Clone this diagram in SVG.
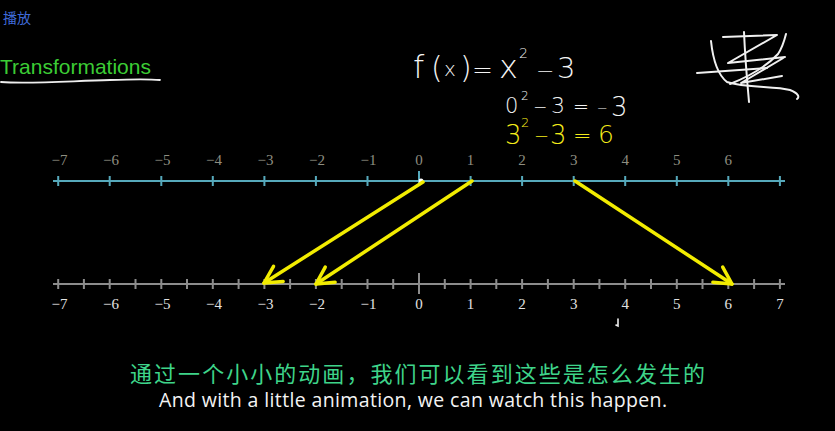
<svg xmlns="http://www.w3.org/2000/svg" width="835" height="431" viewBox="0 0 835 431">
<defs>
<style>
.hand{font-family:"DejaVu Sans","Liberation Sans",sans-serif;font-weight:200;}
.lblT{font-family:"Liberation Serif","DejaVu Serif",serif;font-size:15px;fill:#8e8e80;text-anchor:middle;}
.lblB{font-family:"Liberation Serif","DejaVu Serif",serif;font-size:15px;fill:#e2e2e2;text-anchor:middle;}
.arrow{stroke:#f2ec00;stroke-width:3.5;fill:none;stroke-linecap:round;marker-end:url(#head);}
.sig{stroke:#f0f0f0;stroke-width:2;fill:none;stroke-linecap:round;stroke-linejoin:round;}
</style>
<marker id="head" viewBox="-20 -12 24 24" refX="0" refY="0" markerWidth="24" markerHeight="24" markerUnits="userSpaceOnUse" orient="auto">
<path d="M-17,-9 L0,0 L-17,9" fill="none" stroke="#f2ec00" stroke-width="3.5" stroke-linecap="round" stroke-linejoin="round"/>
</marker>
</defs>
<rect width="835" height="431" fill="#000"/>

<g id="play-label">
<text x="3" y="23" font-family="'Noto Sans CJK SC',sans-serif" font-size="14" fill="#3f6ad8">播放</text>
</g>

<g id="title">
<text x="0" y="74" font-family="'Liberation Sans','Open Sans',sans-serif" font-size="21" fill="#3ccc35">Transformations</text>
<path d="M1,82 C30,84 70,81 110,80 C135,79 150,79 160,80" stroke="#eee" stroke-width="1.8" fill="none" stroke-linecap="round"/>
</g>

<g id="formula" class="hand">
<text y="78" font-size="32" fill="#f4f4f4"><tspan x="413">f</tspan><tspan x="431" font-size="30">(</tspan><tspan x="444" y="76" font-size="20">x</tspan><tspan x="460" y="78" font-size="30">)</tspan><tspan x="472" font-size="25">=</tspan><tspan x="499" font-size="32">x</tspan><tspan x="519" y="58" font-size="14">2</tspan><tspan x="536" y="78" font-size="22">−</tspan><tspan x="557" font-size="29">3</tspan></text>
<text y="113" font-size="21" fill="#f4f4f4"><tspan x="505">0</tspan><tspan x="521" y="100" font-size="12">2</tspan><tspan x="533" y="113" font-size="17">−</tspan><tspan x="551" font-size="22">3</tspan><tspan x="573" font-size="19">=</tspan><tspan x="597" font-size="13">−</tspan><tspan x="611" y="116" font-size="26">3</tspan></text>
<text y="144" font-size="26" fill="#f5ec1a"><tspan x="505">3</tspan><tspan x="521" y="127" font-size="13">2</tspan><tspan x="534" y="142" font-size="18">−</tspan><tspan x="550" y="144" font-size="26">3</tspan><tspan x="573" y="143" font-size="22">=</tspan><tspan x="598" y="143" font-size="25">6</tspan></text>
</g>

<g id="signature">
<path class="sig" d="M744,32 C745,55 747,80 749,102"/>
<path class="sig" d="M723,37 L777,35 L728,63 L785,57 L741,83 L782,76"/>
<path class="sig" d="M711,41 C713,60 718,75 727,82 C745,88 775,86 790,90 C798,93 800,97 797,99"/>
<path class="sig" d="M697,73 L767,68"/>
<path class="sig" d="M786,34 C784,42 782,48 778,54 C765,68 745,78 730,84"/>
</g>

<g id="top-axis">
<line x1="53" y1="181" x2="785" y2="181" stroke="#56a9bb" stroke-width="2"/>
<path d="M58.2,176V186M109.7,176V186M161.3,176V186M212.8,176V186M264.4,176V186M315.9,176V186M367.5,176V186M419,171V186M470.6,176V186M522.1,176V186M573.7,176V186M625.2,176V186M676.8,176V186M728.3,176V186M779.9,176V186" stroke="#56a9bb" stroke-width="2"/>
<text class="lblT" x="59.5" y="165">−7</text>
<text class="lblT" x="111" y="165">−6</text>
<text class="lblT" x="162.5" y="165">−5</text>
<text class="lblT" x="214" y="165">−4</text>
<text class="lblT" x="265.5" y="165">−3</text>
<text class="lblT" x="317" y="165">−2</text>
<text class="lblT" x="368.5" y="165">−1</text>
<text class="lblT" x="419" y="165">0</text>
<text class="lblT" x="470.6" y="165">1</text>
<text class="lblT" x="522.1" y="165">2</text>
<text class="lblT" x="573.7" y="165">3</text>
<text class="lblT" x="625.2" y="165">4</text>
<text class="lblT" x="676.8" y="165">5</text>
<text class="lblT" x="728.3" y="165">6</text>
</g>

<g id="bottom-axis">
<line x1="53" y1="284" x2="785" y2="284" stroke="#8c8c8c" stroke-width="2.2"/>
<path d="M58.2,279V289M83.9,279V289M109.7,279V289M135.5,279V289M161.3,279V289M187,279V289M212.8,279V289M238.6,279V289M264.4,279V289M290.1,279V289M315.9,279V289M341.7,279V289M367.5,279V289M393.2,279V289M419,273V294M444.8,279V289M470.6,279V289M496.3,279V289M522.1,279V289M547.9,279V289M573.7,279V289M599.4,279V289M625.2,279V289M651,279V289M676.8,279V289M702.5,279V289M728.3,279V289M754.1,279V289M779.9,279V289" stroke="#8c8c8c" stroke-width="2"/>
<text class="lblB" x="59.5" y="309">−7</text>
<text class="lblB" x="111" y="309">−6</text>
<text class="lblB" x="162.5" y="309">−5</text>
<text class="lblB" x="214" y="309">−4</text>
<text class="lblB" x="265.5" y="309">−3</text>
<text class="lblB" x="317" y="309">−2</text>
<text class="lblB" x="368.5" y="309">−1</text>
<text class="lblB" x="419" y="309">0</text>
<text class="lblB" x="470.6" y="309">1</text>
<text class="lblB" x="522.1" y="309">2</text>
<text class="lblB" x="573.7" y="309">3</text>
<text class="lblB" x="625.2" y="309">4</text>
<text class="lblB" x="676.8" y="309">5</text>
<text class="lblB" x="728.3" y="309">6</text>
<text class="lblB" x="779.9" y="309">7</text>
</g>

<g id="connectors">
<circle cx="421" cy="181" r="2.5" fill="#fff"/>
<line class="arrow" x1="423" y1="182" x2="264" y2="283"/>
<line class="arrow" x1="472" y1="181" x2="316" y2="284"/>
<line class="arrow" x1="575" y1="181" x2="732" y2="284"/>
</g>

<g id="cursor-mark">
<path d="M618,319 L618,326 L616,325" stroke="#eee" stroke-width="1.6" fill="none" stroke-linecap="round"/>
</g>

<g id="subtitles">
<text x="130" y="382" font-family="'Noto Sans CJK SC',sans-serif" font-size="22" fill="#3ed48a" textLength="575">通过一个小小的动画，我们可以看到这些是怎么发生的</text>
<text x="159" y="407" font-family="'Open Sans','Noto Sans',sans-serif" font-size="19.5" fill="#f4f4f4" textLength="508">And with a little animation, we can watch this happen.</text>
</g>
</svg>
